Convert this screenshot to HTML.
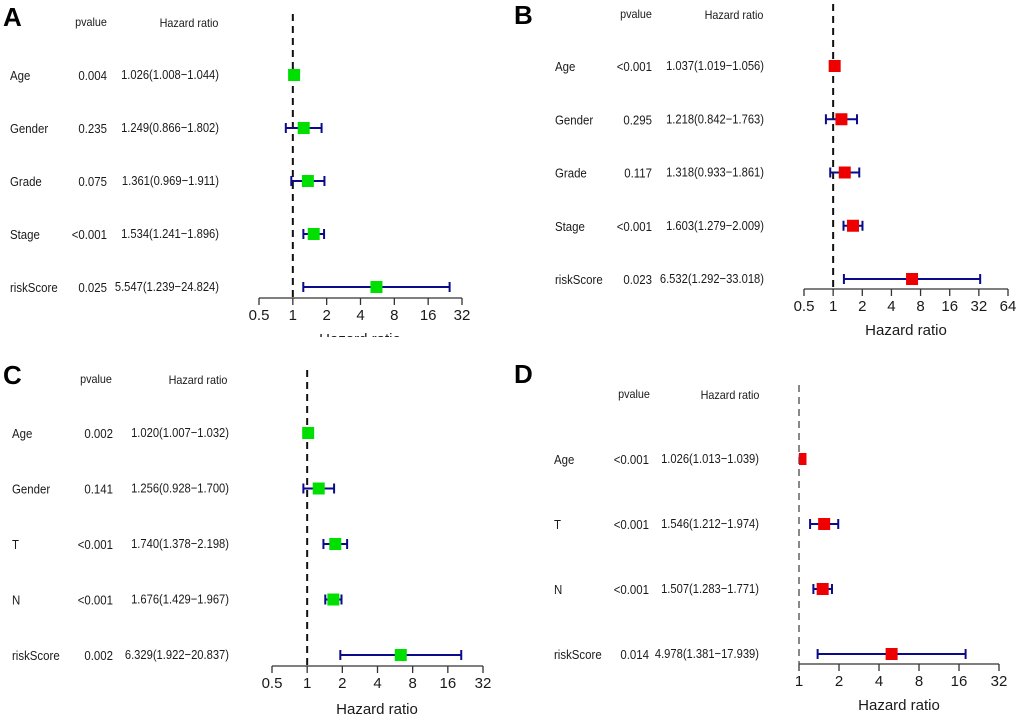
<!DOCTYPE html>
<html><head><meta charset="utf-8"><style>
html,body{margin:0;padding:0;background:#fff;}
svg{display:block;font-family:"Liberation Sans",Arial,sans-serif;}
</style></head><body>
<svg id="chart" width="1020" height="718" viewBox="0 0 1020 718">
<defs><clipPath id="clipA"><rect x="0" y="0" width="510" height="337"/></clipPath></defs>
</svg>
<script>
// Panel A data
const aLabels=["Age","Gender","Grade","Stage","riskScore"];
const aP=["0.004","0.235","0.075","<0.001","0.025"];
const aHR=[1.026,1.249,1.361,1.534,5.547];
const aLo=[1.008,0.866,0.969,1.241,1.239];
const aHi=[1.044,1.802,1.911,1.896,24.824];
const aTicks=[0.5,1,2,4,8,16,32];
// Panel B data
const bLabels=["Age","Gender","Grade","Stage","riskScore"];
const bP=["<0.001","0.295","0.117","<0.001","0.023"];
const bHR=[1.037,1.218,1.318,1.603,6.532];
const bLo=[1.019,0.842,0.933,1.279,1.292];
const bHi=[1.056,1.763,1.861,2.009,33.018];
const bTicks=[0.5,1,2,4,8,16,32,64];
// Panel C data
const cLabels=["Age","Gender","T","N","riskScore"];
const cP=["0.002","0.141","<0.001","<0.001","0.002"];
const cHR=[1.020,1.256,1.740,1.676,6.329];
const cLo=[1.007,0.928,1.378,1.429,1.922];
const cHi=[1.032,1.700,2.198,1.967,20.837];
const cTicks=[0.5,1,2,4,8,16,32];
// Panel D data
const dLabels=["Age","T","N","riskScore"];
const dP=["<0.001","<0.001","<0.001","0.014"];
const dHR=[1.026,1.546,1.507,4.978];
const dLo=[1.013,1.212,1.283,1.381];
const dHi=[1.039,1.974,1.771,17.939];
const dTicks=[1,2,4,8,16,32];

const NS="http://www.w3.org/2000/svg";
const svg=document.getElementById('chart');
function mk(tag,attrs,parent){const e=document.createElementNS(NS,tag);for(const k in attrs)e.setAttribute(k,attrs[k]);(parent||svg).appendChild(e);return e;}
function txt(s,x,y,size,anchor,parent,weight,squeeze){const t=mk('text',{x:x,y:y,'font-size':size,'text-anchor':anchor||'start',fill:'#1a1a1a'},parent);if(weight)t.setAttribute('font-weight',weight);t.textContent=s;
  if(squeeze){const w=t.getComputedTextLength();t.setAttribute('textLength',w*squeeze);t.setAttribute('lengthAdjust','spacingAndGlyphs');}
  return t;}

function panel(cfg){
  const g=mk('g',{});
  
  
  if(cfg.clip)g.setAttribute('clip-path','url(#'+cfg.clip+')');
  const L=Math.log2;
  const t0=cfg.ticks[0],t1=cfg.ticks[cfg.ticks.length-1];
  const xs=v=>cfg.x0+(L(v)-L(t0))/(L(t1)-L(t0))*(cfg.x1-cfg.x0);
  const rowY=i=>cfg.yFirst+i*(cfg.yLast-cfg.yFirst)/(cfg.labels.length-1);
  const title=txt(cfg.letter,cfg.lx,cfg.ly,26,'start',g,'bold');
  title.setAttribute('fill','#000');
  
  
  const h1=txt('pvalue',cfg.pHx,cfg.hY,12,'middle',g,null,0.9);
  
  
  const h2=txt('Hazard ratio',cfg.hrHx,cfg.hY+1,12,'middle',g,null,0.9);
  
  
  const ref=mk('line',{x1:xs(1),x2:xs(1),y1:cfg.dashTop,y2:cfg.axY,stroke:'#111','stroke-width':cfg.dashW,'stroke-dasharray':'7,5'},g);
  
  
  cfg.labels.forEach((lab,i)=>{
    const y=rowY(i);
    const rg=mk('g',{},g);
    
    
    txt(lab,cfg.labX,y+5,13,'start',rg,null,0.88);
    txt(cfg.p[i],cfg.pX,y+5,13,'end',rg,null,0.88);
    txt(cfg.hr[i].toFixed(3)+'('+cfg.lo[i].toFixed(3)+'\u2212'+cfg.hi[i].toFixed(3)+')',cfg.hrX,y+4,13,'end',rg,null,0.86);
    const lo=Math.max(cfg.lo[i],t0),hi=cfg.hi[i];
    const xl=xs(lo),xh=xs(hi);
    const ci=mk('g',{},rg);
    
    
    mk('line',{x1:xl,x2:xh,y1:y,y2:y,stroke:'#0a0a8a','stroke-width':2},ci);
    mk('line',{x1:xl,x2:xl,y1:y-5,y2:y+5,stroke:'#0a0a8a','stroke-width':2},ci);
    mk('line',{x1:xh,x2:xh,y1:y-5,y2:y+5,stroke:'#0a0a8a','stroke-width':2},ci);
    const cx=xs(cfg.hr[i]);const s=12;
    let bx=cx-s/2, bw=s;
    if(bx<xs(t0)){bw-=(xs(t0)-bx);bx=xs(t0);}
    const box=mk('rect',{x:bx,y:y-s/2,width:bw,height:s,fill:cfg.color},rg);
    
    
  });
  const ax=mk('g',{},g);
  
  
  mk('line',{x1:cfg.x0,x2:cfg.x1,y1:cfg.axY,y2:cfg.axY,stroke:'#333','stroke-width':1.3},ax);
  cfg.ticks.forEach(t=>{
    mk('line',{x1:xs(t),x2:xs(t),y1:cfg.axY,y2:cfg.axY+7,stroke:'#333','stroke-width':1.3},ax);
    txt(String(t),xs(t),cfg.axY+22,15,'middle',ax);
  });
  const at=txt('Hazard ratio',cfg.atX,cfg.atY,15,'middle',g);
  
  
}

panel({letter:'A',lx:3,ly:26,labels:aLabels,p:aP,hr:aHR,lo:aLo,hi:aHi,ticks:aTicks,color:'#00e000',clip:'clipA',
 x0:259,x1:462,axY:298,yFirst:75,yLast:287,labX:10,pX:107,hrX:219,pHx:91,hrHx:189,hY:26,dashTop:14,dashW:2,atX:360,atY:344});
panel({letter:'B',lx:514,ly:24,labels:bLabels,p:bP,hr:bHR,lo:bLo,hi:bHi,ticks:bTicks,color:'#ee0000',
 x0:804,x1:1008,axY:289,yFirst:66,yLast:279,labX:555,pX:652,hrX:764,pHx:636,hrHx:734,hY:18,dashTop:4,dashW:2,atX:906,atY:335});
panel({letter:'C',lx:3,ly:384,labels:cLabels,p:cP,hr:cHR,lo:cLo,hi:cHi,ticks:cTicks,color:'#00e000',
 x0:272,x1:483,axY:666,yFirst:433,yLast:655,labX:12,pX:113,hrX:229,pHx:96,hrHx:198,hY:383,dashTop:370,dashW:2,atX:377,atY:714});
panel({letter:'D',lx:514,ly:383,labels:dLabels,p:dP,hr:dHR,lo:dLo,hi:dHi,ticks:dTicks,color:'#ee0000',
 x0:799,x1:999,axY:664,yFirst:459,yLast:654,labX:554,pX:649,hrX:759,pHx:634,hrHx:730,hY:398,dashTop:385,dashW:1,atX:899,atY:710});
</script>
</body></html>
